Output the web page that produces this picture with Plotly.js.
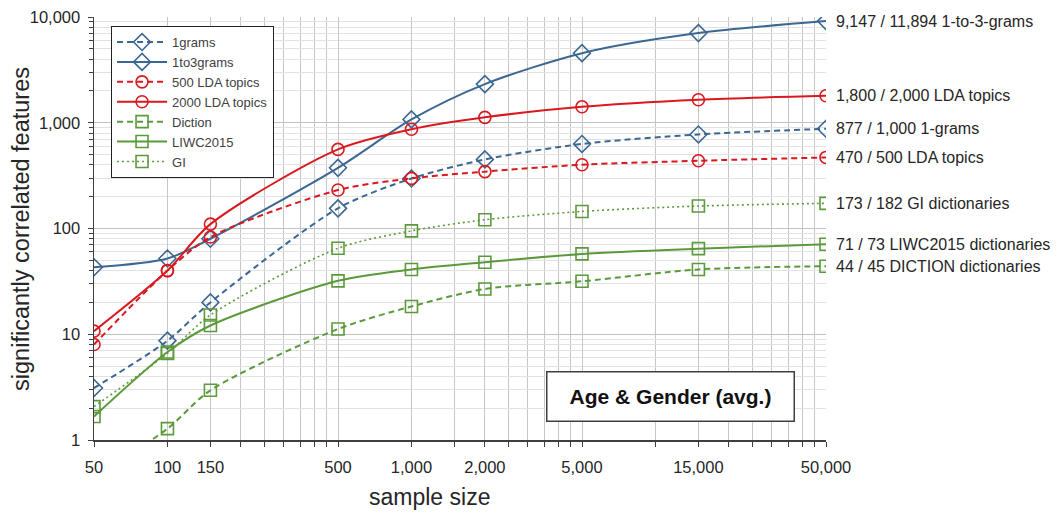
<!DOCTYPE html>
<html>
<head>
<meta charset="utf-8">
<script src="https://cdn.plot.ly/plotly-3.0.1.min.js"></script>
<style>html,body{margin:0;padding:0;background:#fff;}#chart{width:1058px;height:516px;}</style>
</head>
<body>
<div id="chart"></div>
<script>
// ---- data ----
const sampleSizes = [50, 100, 150, 500, 1000, 2000, 5000, 15000, 50000];
const grams1      = [3.1, 8.7, 20, 155, 297, 450, 630, 775, 877];
const grams1to3   = [43, 52, 80, 375, 1075, 2320, 4550, 7050, 9147];
const lda500      = [8.0, 40, 83, 231, 298, 345, 401, 437, 470];
const lda2000     = [10.7, 40, 110, 560, 867, 1125, 1415, 1650, 1800];
const diction     = [0.45, 1.28, 2.95, 11.2, 18.3, 26.8, 31.7, 41, 44];
const liwc2015    = [1.67, 6.8, 12.1, 32, 41, 48, 57.5, 64.5, 71];
const gi          = [2.07, 6.6, 15.2, 65, 95, 121, 145, 163, 173];

const seriesNames = ['1grams', '1to3grams', '500 LDA topics', '2000 LDA topics', 'Diction', 'LIWC2015', 'GI'];
const endLabels = [
  '9,147 / 11,894 1-to-3-grams',
  '1,800 / 2,000 LDA topics',
  '877 / 1,000 1-grams',
  '470 / 500 LDA topics',
  '173 / 182 GI dictionaries',
  '71 / 73 LIWC2015 dictionaries',
  '44 / 45 DICTION dictionaries'
];
const endValues = [grams1to3[8], lda2000[8], grams1[8], lda500[8], gi[8], liwc2015[8], diction[8]];

const xTickVals = [50, 100, 150, 500, 1000, 2000, 5000, 15000, 50000];
const xTickText = ['50', '100', '150', '500', '1,000', '2,000', '5,000', '15,000', '50,000'];
const yTickVals = [1, 10, 100, 1000, 10000];
const yTickText = ['1', '10', '100', '1,000', '10,000'];

const xTitle = 'sample size';
const yTitle = 'significantly correlated features';
const boxTitle = 'Age &amp; Gender (avg.)';

// ---- styles ----
const FONT = 'Liberation Sans, Arial, sans-serif';
const BLUE = '#3b6792', RED = '#d9191f', GREEN = '#5b9a3b';
function tr(y, name, color, dash, symbol, size, width) {
  return {
    x: sampleSizes, y: y, name: name, type: 'scatter', mode: 'lines+markers',
    line: {color: color, dash: dash, width: width, shape: 'spline', smoothing: 0.8},
    marker: {symbol: symbol, size: size, color: color, line: {color: color, width: 1.6}},
    cliponaxis: true
  };
}
const DASH = '6px,4px', DOT = '2px,3px';
const data = [
  tr(grams1, seriesNames[0], BLUE, DASH, 'diamond-open', 13, 2),
  tr(grams1to3, seriesNames[1], BLUE, 'solid', 'diamond-open', 13, 2),
  tr(lda500, seriesNames[2], RED, DASH, 'circle-open', 12, 2),
  tr(lda2000, seriesNames[3], RED, 'solid', 'circle-open', 12, 2),
  tr(diction, seriesNames[4], GREEN, DASH, 'square-open', 12, 2),
  tr(liwc2015, seriesNames[5], GREEN, 'solid', 'square-open', 12, 2),
  tr(gi, seriesNames[6], GREEN, DOT, 'square-open', 12, 1.6)
];

// minor grid positions (Excel-like minor units on a log axis starting at 50)
const xMinor = [];
[[50, 500, 50], [500, 5000, 500], [5000, 50000, 5000]].forEach(([a, b, s]) => {
  for (let v = a + s; v < b; v += s) xMinor.push(v);
});
const yMinor = [];
[1, 10, 100, 1000].forEach(d => { for (let k = 2; k <= 9; k++) yMinor.push(d * k); });

const annotations = endLabels.map((t, i) => ({
  x: Math.log10(50000), y: Math.log10(endValues[i]), xref: 'x', yref: 'y',
  text: t, showarrow: false, xanchor: 'left', yanchor: 'middle', xshift: 8,
  font: {family: FONT, size: 16, color: '#262626'}
}));
annotations.push({
  xref: 'paper', yref: 'paper', x: 0.788, y: 0.104, xanchor: 'center', yanchor: 'middle',
  text: '<b>' + boxTitle + '</b>', showarrow: false,
  font: {family: FONT, size: 21, color: '#111'},
  bordercolor: '#404040', borderwidth: 1.5, borderpad: 10, bgcolor: '#fff',
  width: 226, height: 28
});
// axis titles
annotations.push({
  xref: 'paper', yref: 'paper', x: 0.4577, y: -0.1348, xanchor: 'center', yanchor: 'middle',
  text: xTitle, showarrow: false, font: {family: FONT, size: 23, color: '#262626'}
});
annotations.push({
  xref: 'paper', yref: 'paper', x: -0.0997, y: 0.499, xanchor: 'center', yanchor: 'middle',
  text: yTitle, textangle: -90, showarrow: false, font: {family: FONT, size: 23.5, color: '#262626'}
});

const layout = {
  width: 1058, height: 516,
  margin: {l: 94, r: 232, t: 17, b: 76, pad: 0},
  paper_bgcolor: '#fff', plot_bgcolor: '#fff',
  showlegend: true,
  legend: {
    x: 0.023, y: 0.979, xanchor: 'left', yanchor: 'top',
    bgcolor: '#fff', bordercolor: '#222', borderwidth: 1.2,
    font: {family: FONT, size: 13, color: '#404040'},
    itemwidth: 50, tracegroupgap: 0
  },
  xaxis: {
    type: 'log', range: [Math.log10(50), Math.log10(50000)],
    tickmode: 'array', tickvals: xTickVals, ticktext: xTickText,
    ticks: 'outside', ticklen: 5, tickcolor: '#404040',
    showgrid: true, gridcolor: '#c6c6c6', gridwidth: 1,
    minor: {tickmode: 'array', tickvals: xMinor, ticks: 'outside', ticklen: 5, tickcolor: '#404040', showgrid: true, gridcolor: '#c6c6c6', gridwidth: 1},
    showline: true, linecolor: '#404040', linewidth: 1.5,
    zeroline: false,
    tickfont: {family: FONT, size: 16.5, color: '#262626'},
    ticklabelstandoff: 7
  },
  yaxis: {
    type: 'log', range: [0, 4],
    tickmode: 'array', tickvals: yTickVals, ticktext: yTickText,
    ticks: 'outside', ticklen: 5, tickcolor: '#404040',
    showgrid: true, gridcolor: '#c2c2c2', gridwidth: 1,
    minor: {tickmode: 'array', tickvals: yMinor, ticks: 'outside', ticklen: 4, tickcolor: '#404040', showgrid: true, gridcolor: '#e2e2e2', gridwidth: 1},
    showline: true, linecolor: '#404040', linewidth: 1.5,
    zeroline: false,
    tickfont: {family: FONT, size: 16.5, color: '#262626'},
    ticklabelstandoff: 4
  },
  annotations: annotations
};

Plotly.newPlot('chart', data, layout, {displayModeBar: false, staticPlot: true});
</script>
</body>
</html>
